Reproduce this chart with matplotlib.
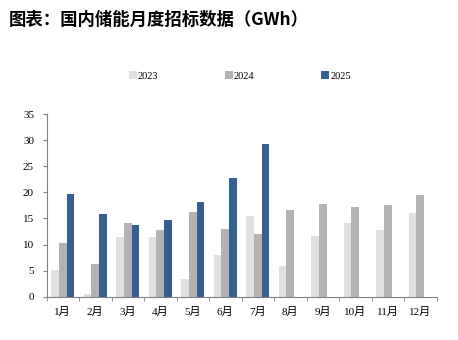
import numpy as np
import matplotlib
matplotlib.use("Agg")
import matplotlib.pyplot as plt

months = ['1月', '2月', '3月', '4月', '5月', '6月', '7月', '8月', '9月', '10月', '11月', '12月']
v2023 = [5.2, 0.5, 11.4, 11.4, 3.3, 7.9, 15.4, 5.8, 11.7, 14.1, 12.8, 16.0]
v2024 = [10.3, 6.3, 14.2, 12.8, 16.3, 13.0, 12.1, 16.6, 17.8, 17.2, 17.6, 19.5]
v2025 = [19.7, 15.8, 13.7, 14.7, 18.2, 22.8, 29.3]

plt.rcParams['font.family'] = ['Liberation Serif', 'Noto Sans CJK SC']

fig = plt.figure(figsize=(4.58, 3.4), dpi=100)
ax = fig.add_axes([46.5 / 458, 1 - 296.7 / 340, 390 / 458, (296.7 - 114) / 340])

x = np.arange(len(months))
w = 0.24
ax.bar(x - w, v2023, w, color='#e0e0e0', label='2023')
ax.bar(x, v2024, w, color='#b3b3b3', label='2024')
ax.bar(np.arange(len(v2025)) + w, v2025, w, color='#365f91', label='2025')

ax.set_xlim(-0.5, 11.5)
ax.set_ylim(0, 35)
ax.set_yticks(range(0, 36, 5))
ax.set_xticks(x)
ax.set_xticklabels(months)
ax.set_xticks(np.arange(-0.5, 12, 1), minor=True)
ax.tick_params(axis='x', which='major', length=0, labelsize=8, pad=7)
ax.tick_params(axis='x', which='minor', length=3, color='#808080', direction='out')
ax.tick_params(axis='y', length=3, color='#808080', labelsize=8, pad=6)
for s in ['top', 'right']:
    ax.spines[s].set_visible(False)
ax.spines['left'].set_color('#808080')
ax.spines['bottom'].set_color('#808080')
ax.spines['left'].set_linewidth(0.8)
ax.spines['bottom'].set_linewidth(0.8)

leg = fig.legend(loc='center', bbox_to_anchor=(240 / 458, 1 - 76 / 340), ncol=3,
                 frameon=False, fontsize=7.5, handlelength=0.75, handleheight=0.75,
                 handletextpad=0.1, columnspacing=6.4)

fig.text(9 / 458, 1 - 20 / 340, '图表：国内储能月度招标数据（GWh）', fontsize=12.5,
         fontweight='bold', family=['Noto Sans CJK SC', 'DejaVu Sans'], va='center')

fig.savefig('out.png', dpi=100)
